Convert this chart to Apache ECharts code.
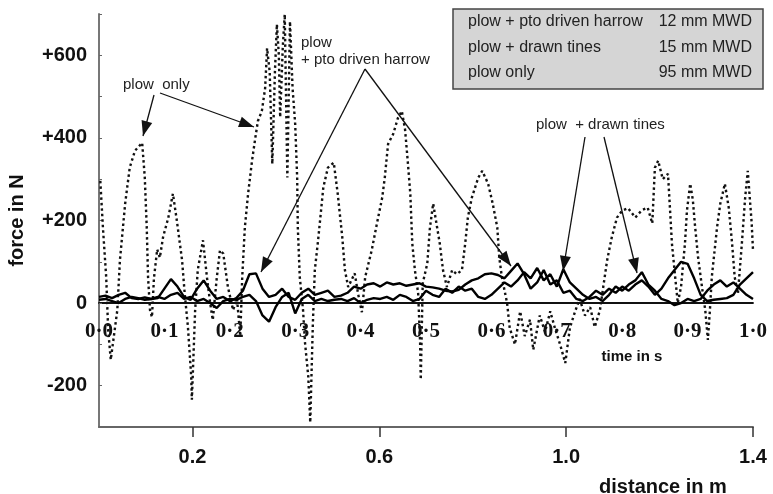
<!DOCTYPE html>
<html>
<head>
<meta charset="utf-8">
<script src="https://cdn.jsdelivr.net/npm/echarts@6/dist/echarts.min.js"></script>
<style>html,body{margin:0;padding:0;background:#fff}#c{width:773px;height:494px}</style>
</head>
<body>
<div id="c"></div>
<script>
// ---- data ----
// plow only (dotted): time in s, force in N
const timeOnly = [0.002,0.006,0.011,0.014,0.018,0.028,0.032,0.040,0.047,0.055,0.066,0.070,0.073,0.075,0.078,0.081,0.084,0.089,0.093,0.098,
0.106,0.113,0.119,0.127,0.131,0.136,0.141,0.142,0.147,0.151,0.159,0.165,0.170,0.174,0.180,0.185,0.190,0.197,0.205,0.211,
0.216,0.219,0.223,0.228,0.234,0.239,0.243,0.249,0.254,0.257,0.261,0.265,0.269,0.272,0.275,0.277,0.281,0.284,0.286,0.288,
0.292,0.296,0.300,0.303,0.304,0.307,0.312,0.315,0.320,0.323,0.327,0.330,0.335,0.343,0.350,0.359,0.365,0.372,0.376,0.381,
0.391,0.396,0.402,0.407,0.417,0.425,0.433,0.437,0.442,0.450,0.457,0.463,0.468,0.472,0.476,0.479,0.483,0.488,0.491,0.492,
0.495,0.502,0.506,0.511,0.517,0.521,0.526,0.532,0.540,0.547,0.555,0.560,0.564,0.570,0.580,0.586,0.595,0.602,0.609,0.612,
0.616,0.624,0.628,0.636,0.644,0.651,0.659,0.664,0.674,0.682,0.690,0.697,0.705,0.713,0.720,0.728,0.735,0.743,0.751,0.758,
0.766,0.771,0.777,0.784,0.792,0.800,0.809,0.820,0.830,0.839,0.846,0.850,0.855,0.862,0.870,0.873,0.876,0.881,0.885,0.890,
0.896,0.899,0.904,0.908,0.911,0.916,0.922,0.927,0.931,0.934,0.937,0.945,0.950,0.957,0.963,0.968,0.972,0.977,0.983,0.988,
0.992,0.998,1.000];
const forceOnly = [296,183,63,-65,-137,-17,104,241,328,369,388,304,183,63,-17,-34,60,130,110,160,
207,265,200,104,24,-58,-178,-234,-17,80,152,63,0,-41,60,128,120,40,-17,10,
-80,63,183,265,345,400,441,465,520,617,560,337,560,675,600,450,620,699,500,304,
682,520,433,304,183,63,-17,-96,-178,-289,-50,80,152,280,328,340,265,159,80,39,
72,24,-22,63,128,193,255,304,385,410,448,465,420,345,265,145,80,24,-96,-185,
48,96,183,241,183,145,80,39,80,70,80,145,207,255,304,320,289,241,183,111,
63,0,-60,-100,-20,-80,-40,-113,-30,-70,-20,-60,-100,-145,-60,-20,10,-30,-10,-58,
-17,39,104,159,207,224,230,207,225,231,193,328,345,300,313,230,145,63,0,40,
145,224,289,250,193,111,39,-17,-89,-20,63,183,241,289,230,145,63,24,145,255,
320,193,128];

// time grid for the two solid traces
const timeGrid = [0.00,0.01,0.02,0.03,0.04,0.05,0.06,0.07,0.08,0.09,0.10,0.11,0.12,0.13,0.14,0.15,0.16,0.17,0.18,0.19,
0.20,0.21,0.22,0.23,0.24,0.25,0.26,0.27,0.28,0.29,0.30,0.31,0.32,0.33,0.34,0.35,0.36,0.37,0.38,0.39,
0.40,0.41,0.42,0.43,0.44,0.45,0.46,0.47,0.48,0.49,0.50,0.51,0.52,0.53,0.54,0.55,0.56,0.57,0.58,0.59,
0.60,0.61,0.62,0.63,0.64,0.65,0.66,0.67,0.68,0.69,0.70,0.71,0.72,0.73,0.74,0.75,0.76,0.77,0.78,0.79,
0.80,0.81,0.82,0.83,0.84,0.85,0.86,0.87,0.88,0.89,0.90,0.91,0.92,0.93,0.94,0.95,0.96,0.97,0.98,0.99,1.00];
// plow + pto driven harrow
const forceHarrow = [15,18,12,20,25,12,10,14,10,12,35,58,40,15,8,35,55,30,10,15,
5,12,30,70,72,35,15,20,35,15,8,25,35,20,25,30,15,18,25,40,
35,45,48,40,50,45,48,42,45,48,40,38,35,30,28,32,45,55,60,70,
72,68,60,78,96,70,35,50,80,45,55,25,30,10,5,15,30,20,35,25,
40,30,45,55,40,20,35,60,80,100,95,60,20,5,8,10,12,20,45,60,75];
// plow + drawn tines
const forceTines = [8,10,5,0,10,15,12,8,10,15,10,20,25,10,15,5,10,0,-12,5,
10,8,15,20,5,-30,-45,-10,15,25,-25,10,20,5,10,5,8,10,5,12,
0,8,12,10,15,8,20,15,5,10,30,20,15,35,25,40,30,35,15,10,
20,35,50,40,55,75,60,85,55,70,40,82,50,35,20,10,15,5,20,40,
30,45,55,75,45,30,10,5,-5,0,10,5,10,30,45,55,40,50,35,20,10];

// tick labels
const forceTickLabels = [-200, 0, 200, 400, 600];
const distanceTicks = [0.2, 0.6, 1.0, 1.4];
const legendRows = [
  ['plow + pto driven harrow', '12 mm MWD'],
  ['plow + drawn tines', '15 mm MWD'],
  ['plow only', '95 mm MWD']
];

// ---- chart ----
const SANS = '"Liberation Sans", Arial, Helvetica, sans-serif';
const SERIF = '"Liberation Serif", "Times New Roman", serif';
const chart = echarts.init(document.getElementById('c'), null, {renderer: 'canvas'});

const pair = (xs, ys) => xs.map((x, i) => [x, ys[i]]);

function arrow(x1, y1, x2, y2, head) {
  const els = [{
    type: 'line', shape: {x1, y1, x2, y2},
    style: {stroke: '#111', lineWidth: 1.3}, z: 100
  }];
  if (head) {
    const a = Math.atan2(y2 - y1, x2 - x1), L = 15, W = 5.5;
    const bx = x2 - L * Math.cos(a), by = y2 - L * Math.sin(a);
    els.push({
      type: 'polygon',
      shape: {points: [[x2, y2], [bx + W * Math.sin(a), by - W * Math.cos(a)], [bx - W * Math.sin(a), by + W * Math.cos(a)]]},
      style: {fill: '#111'}, z: 100
    });
  }
  return els;
}

const graphics = [];
// legend box
graphics.push({type: 'rect', shape: {x: 453, y: 9, width: 310, height: 80},
  style: {fill: '#d5d5d5', stroke: '#444', lineWidth: 1.5}, z: 90});
legendRows.forEach((r, i) => {
  const y = 22 + i * 25.5;
  graphics.push({type: 'text', x: 468, y, style: {text: r[0], font: '16px ' + SANS, fill: '#222', textVerticalAlign: 'middle'}, z: 91});
  graphics.push({type: 'text', x: 752, y, style: {text: r[1], font: '16px ' + SANS, fill: '#222', textAlign: 'right', textVerticalAlign: 'middle'}, z: 91});
});
// annotations
graphics.push({type: 'text', x: 123, y: 85, style: {text: 'plow  only', font: '15px ' + SANS, fill: '#222', textVerticalAlign: 'middle'}, z: 100});
graphics.push(...arrow(154, 95, 143, 136, true));
graphics.push(...arrow(160, 93, 254, 127, true));
graphics.push({type: 'text', x: 301, y: 43, style: {text: 'plow', font: '15px ' + SANS, fill: '#222', textVerticalAlign: 'middle'}, z: 100});
graphics.push({type: 'text', x: 301, y: 60, style: {text: '+ pto driven harrow', font: '15px ' + SANS, fill: '#222', textVerticalAlign: 'middle'}, z: 100});
graphics.push(...arrow(365, 69, 261, 272, true));
graphics.push(...arrow(365, 69, 511, 266, true));
graphics.push({type: 'text', x: 536, y: 125, style: {text: 'plow  + drawn tines', font: '15px ' + SANS, fill: '#222', textVerticalAlign: 'middle'}, z: 100});
graphics.push(...arrow(585, 137, 563, 271, true));
graphics.push(...arrow(604, 137, 637, 273, true));
// axis titles
graphics.push({type: 'text', x: 632, y: 357, style: {text: 'time in s', font: 'bold 15px ' + SANS, fill: '#111', textAlign: 'center', textVerticalAlign: 'middle'}, z: 100});
graphics.push({type: 'text', x: 663, y: 487, style: {text: 'distance in m', font: 'bold 20px ' + SANS, fill: '#111', textAlign: 'center', textVerticalAlign: 'middle'}, z: 100});

const GRID = {left: 99, top: 14, width: 654, height: 413};
const Y_MIN = -300, Y_MAX = 700;
// the time axis sits on the zero line of the force axis: move the top axis down to it
const zeroOffset = -GRID.height * Y_MAX / (Y_MAX - Y_MIN);

const option = {
  backgroundColor: '#fff',
  animation: false,
  grid: Object.assign({containLabel: false, outerBoundsMode: 'none'}, GRID),
  xAxis: [{
    type: 'value', min: 0, max: 1.4, position: 'bottom',
    axisLine: {onZero: false, lineStyle: {color: '#666', width: 2}},
    axisTick: {show: true, customValues: distanceTicks, length: 10, lineStyle: {color: '#333', width: 1.5}},
    axisLabel: {customValues: distanceTicks, formatter: v => v.toFixed(1), margin: 20,
      fontFamily: SANS, fontWeight: 'bold', fontSize: 20, color: '#111'},
    splitLine: {show: false}
  }, {
    type: 'value', min: 0, max: 1, interval: 0.1, position: 'top', offset: zeroOffset,
    axisLine: {onZero: false, lineStyle: {color: '#111', width: 1.8}},
    axisTick: {show: false},
    axisLabel: {inside: true, formatter: v => v.toFixed(1).replace('.', '\u00b7'), margin: 18,
      showMinLabel: true, showMaxLabel: true, hideOverlap: false,
      fontFamily: SERIF, fontWeight: 'bold', fontSize: 21, color: '#111'},
    splitLine: {show: false}
  }],
  yAxis: [{
    type: 'value', min: Y_MIN, max: Y_MAX, interval: 100,
    name: 'force in N', nameLocation: 'middle', nameRotate: 90, nameGap: 72,
    nameTextStyle: {fontFamily: SANS, fontWeight: 'bold', fontSize: 20, color: '#111'},
    axisLine: {show: true, onZero: false, lineStyle: {color: '#777', width: 2}},
    axisTick: {show: true, inside: true, length: 3, lineStyle: {color: '#666', width: 1}},
    axisLabel: {margin: 12, fontFamily: SANS, fontWeight: 'bold', fontSize: 20, color: '#111',
      formatter: v => forceTickLabels.indexOf(v) >= 0 ? (v > 0 ? '+' + v : String(v)) : ''},
    splitLine: {show: false}
  }],
  series: [{
    name: 'plow only', type: 'line', xAxisIndex: 1, yAxisIndex: 0,
    data: pair(timeOnly, forceOnly), showSymbol: false,
    lineStyle: {color: '#111', width: 2.4, type: [2.5, 3]}
  }, {
    name: 'plow + pto driven harrow', type: 'line', xAxisIndex: 1, yAxisIndex: 0,
    data: pair(timeGrid, forceHarrow), showSymbol: false,
    lineStyle: {color: '#000', width: 2.4}
  }, {
    name: 'plow + drawn tines', type: 'line', xAxisIndex: 1, yAxisIndex: 0,
    data: pair(timeGrid, forceTines), showSymbol: false,
    lineStyle: {color: '#000', width: 2.4}
  }],
  graphic: graphics
};
chart.setOption(option);
</script>
</body>
</html>
